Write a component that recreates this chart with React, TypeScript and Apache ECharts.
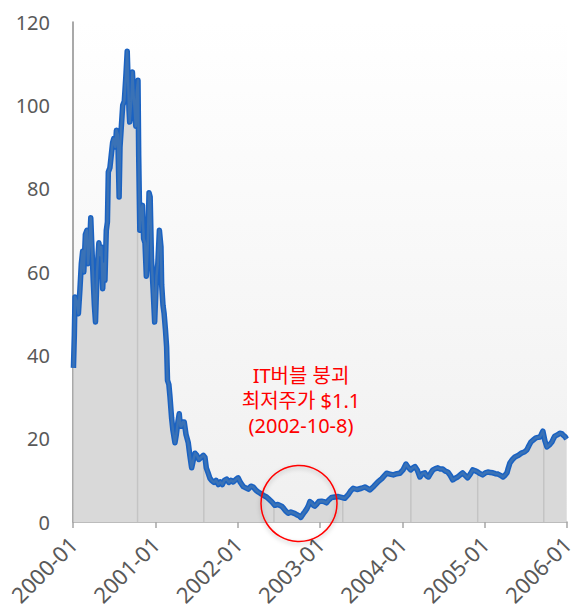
import React, { useEffect, useRef } from "react";
import * as echarts from "echarts";

// Weekly-ish closing prices
const dates: string[] = [
  // 2000
  "2000-01-03", "2000-01-07", "2000-01-10", "2000-01-18", "2000-01-25", "2000-02-01", "2000-02-07", "2000-02-13",
  "2000-02-18", "2000-02-25", "2000-03-03", "2000-03-08", "2000-03-16", "2000-03-20", "2000-03-25", "2000-03-31",
  "2000-04-05", "2000-04-10", "2000-04-17", "2000-04-25", "2000-05-02", "2000-05-06", "2000-05-12", "2000-05-17",
  "2000-05-22", "2000-05-28", "2000-06-02", "2000-06-06", "2000-06-13", "2000-06-19", "2000-06-25", "2000-06-30",
  "2000-07-07", "2000-07-12", "2000-07-18", "2000-07-24", "2000-07-28", "2000-08-03", "2000-08-09", "2000-08-16",
  "2000-08-23", "2000-08-29", "2000-09-02", "2000-09-06", "2000-09-09", "2000-09-16", "2000-09-21", "2000-09-27",
  "2000-10-01", "2000-10-06", "2000-10-10", "2000-10-16", "2000-10-19", "2000-10-24", "2000-10-29", "2000-11-05",
  "2000-11-10", "2000-11-16", "2000-11-22", "2000-11-28", "2000-12-04", "2000-12-09", "2000-12-15", "2000-12-22",
  "2000-12-29",
  // 2001
  "2001-01-06", "2001-01-12", "2001-01-19", "2001-01-26", "2001-01-29", "2001-02-04", "2001-02-09", "2001-02-15",
  "2001-02-20", "2001-02-24", "2001-03-02", "2001-03-07", "2001-03-14", "2001-03-20", "2001-03-29", "2001-04-04",
  "2001-04-11", "2001-04-17", "2001-04-22", "2001-04-27", "2001-05-03", "2001-05-09", "2001-05-17", "2001-05-27",
  "2001-06-03", "2001-06-11", "2001-06-19", "2001-06-26", "2001-07-04", "2001-07-13", "2001-07-25", "2001-08-02",
  "2001-08-09", "2001-08-15", "2001-08-23", "2001-08-31", "2001-09-07", "2001-09-18", "2001-09-27", "2001-10-07",
  "2001-10-16", "2001-10-25", "2001-11-03", "2001-11-13", "2001-11-23", "2001-12-02", "2001-12-12", "2001-12-24",
  // 2002
  "2002-01-03", "2002-01-13", "2002-01-26", "2002-02-06", "2002-02-17", "2002-03-01", "2002-03-11", "2002-03-23",
  "2002-04-02", "2002-04-14", "2002-04-25", "2002-05-09", "2002-05-19", "2002-06-02", "2002-06-15", "2002-06-28",
  "2002-07-15", "2002-07-25", "2002-08-03", "2002-08-13", "2002-08-25", "2002-09-03", "2002-09-12", "2002-09-21",
  "2002-09-30", "2002-10-08", "2002-10-13", "2002-10-19", "2002-10-26", "2002-11-04", "2002-11-11", "2002-11-17",
  "2002-11-26", "2002-12-03", "2002-12-09", "2002-12-18", "2002-12-27",
  // 2003
  "2003-01-08", "2003-01-18", "2003-01-30", "2003-02-09", "2003-02-21", "2003-03-08", "2003-03-23", "2003-04-06",
  "2003-04-21", "2003-05-05", "2003-05-16", "2003-05-28", "2003-06-14", "2003-07-04", "2003-07-19", "2003-08-01",
  "2003-08-10", "2003-08-28", "2003-09-16", "2003-10-02", "2003-10-23", "2003-11-07", "2003-11-22", "2003-12-08",
  "2003-12-21",
  // 2004
  "2004-01-04", "2004-01-17", "2004-01-26", "2004-02-07", "2004-02-17", "2004-02-26", "2004-03-08", "2004-03-19",
  "2004-03-30", "2004-04-10", "2004-04-19", "2004-04-26", "2004-05-07", "2004-05-16", "2004-05-27", "2004-06-07",
  "2004-06-18", "2004-06-29", "2004-07-10", "2004-07-21", "2004-08-01", "2004-08-12", "2004-08-23", "2004-09-03",
  "2004-09-14", "2004-09-25", "2004-10-06", "2004-10-17", "2004-10-29", "2004-11-09", "2004-11-20", "2004-12-01",
  "2004-12-12", "2004-12-23",
  // 2005
  "2005-01-04", "2005-01-15", "2005-01-26", "2005-02-06", "2005-02-17", "2005-03-01", "2005-03-12", "2005-03-23",
  "2005-04-01", "2005-04-10", "2005-04-16", "2005-04-23", "2005-05-04", "2005-05-15", "2005-05-31", "2005-06-15",
  "2005-06-26", "2005-07-07", "2005-07-16", "2005-07-25", "2005-08-05", "2005-08-16", "2005-08-25", "2005-09-03",
  "2005-09-09", "2005-09-16", "2005-09-25", "2005-10-04", "2005-10-15", "2005-10-26", "2005-11-02", "2005-11-08",
  "2005-11-19", "2005-11-30", "2005-12-09", "2005-12-14", "2005-12-23", "2005-12-30",
];

const prices: number[] = [
  // 2000
  37, 45, 54, 53, 50, 56, 62, 65,
  60, 69, 70, 62, 68, 73, 66, 58,
  52, 48, 60, 67, 64, 66, 56, 62,
  58, 70, 72, 84, 85, 88, 91, 92,
  90, 94, 93, 78, 90, 95, 100, 101,
  107, 113, 106, 99, 96, 101, 108, 102,
  99, 95, 103, 106, 88, 70, 74, 76,
  68, 67, 59, 66, 79, 78, 63, 56,
  48,
  // 2001
  59, 62, 70, 66, 57, 52, 50, 46,
  42, 34, 33, 30, 25, 22, 19, 21,
  24, 26, 23, 23, 24, 24, 21, 19,
  16, 13, 15, 16.5, 16, 15, 15.6, 16,
  15.5, 13, 11.8, 10.5, 10, 9.5, 10, 9,
  9.6, 9, 10, 10.3, 9.5, 10, 9.6, 10.2,
  // 2002
  10.6, 9.5, 8.5, 8.2, 7.9, 8.6, 8.4, 7.6,
  7.2, 6.8, 6.4, 6, 5.5, 4.8, 4, 4.2,
  3.8, 3.2, 2.6, 2.1, 2.4, 2.2, 2.0, 1.7,
  1.5, 1.1, 1.5, 2.0, 2.5, 3.2, 4, 4.9,
  4.5, 4.0, 3.8, 4.3, 4.9,
  // 2003
  5, 4.9, 4.6, 5.3, 5.9, 6, 6.1, 5.9,
  5.7, 6.5, 7.4, 8.1, 7.8, 8.1, 8.4, 8.0,
  7.7, 8.6, 9.7, 10.4, 11.7, 11.5, 11.3, 11.6,
  11.7,
  // 2004
  12.5, 13.9, 13.2, 12.5, 13, 13.3, 12.4, 10.8,
  11.6, 11.8, 11, 10.8, 11.8, 12.5, 12.8, 13,
  12.7, 12.7, 12.2, 12, 11.2, 10.1, 10.5, 10.8,
  11.3, 11.8, 11.2, 10.6, 11.5, 12.5, 12.3, 12,
  11.6, 11.3,
  // 2005
  11.8, 12, 11.9, 11.8, 11.6, 11.5, 11.2, 10.8,
  11.2, 11.8, 13, 14.2, 15, 15.6, 16, 16.6,
  16.8, 17.3, 18.3, 19.2, 19.7, 20.2, 20.3, 20.4,
  21, 21.8, 19.5, 18, 18.5, 19.2, 20, 20.6,
  20.9, 21.3, 21.2, 20.9, 20.5, 19.9,
];

// Faint vertical drop lines inside the filled area (as in the reference)
const dropDates: string[] = ["2000-10-14", "2001-08-04", "2002-06-11", "2003-04-12", "2004-02-08", "2004-12-01", "2005-09-20"];
const dropValues: number[] = [100, 15.8, 4.3, 5.9, 12.5, 12, 20];

const yearTicks: number[] = [2000, 2001, 2002, 2003, 2004, 2005, 2006];

const annotationLines: string[] = ["IT버블 붕괴", "최저주가 $1.1", "(2002-10-8)"];

function toYear(s: string): number {
  const [y, m, d] = s.split("-").map(Number);
  const start = Date.UTC(y, 0, 1);
  const end = Date.UTC(y + 1, 0, 1);
  return y + (Date.UTC(y, m - 1, d) - start) / (end - start);
}

const FONT = '"Noto Sans", "Noto Sans CJK KR", sans-serif';

export default function App() {
  const ref = useRef<HTMLDivElement>(null);
  useEffect(() => {
    if (!ref.current) return;
    const chart = echarts.init(ref.current, null, { renderer: "svg" });
    const lineData = dates.map((d, i) => [toYear(d), prices[i]]);
    const dropData = dropDates.map((d, i) => [toYear(d), dropValues[i]]);
    chart.setOption({
      animation: false,
      backgroundColor: "#ffffff",
      grid: {
        left: 73,
        right: 17,
        top: 22,
        bottom: 91,
        show: true,
        borderWidth: 0,
        backgroundColor: new echarts.graphic.LinearGradient(0, 0, 0, 1, [
          { offset: 0, color: "#ffffff" },
          { offset: 1, color: "#f0f0f0" },
        ]),
      },
      xAxis: {
        type: "value",
        min: yearTicks[0],
        max: yearTicks[yearTicks.length - 1],
        interval: 1,
        splitLine: { show: false },
        axisLine: { show: true, lineStyle: { color: "#a6a6a6", width: 1.5 } },
        axisTick: { show: true, length: 6, lineStyle: { color: "#a6a6a6", width: 1.5 } },
        axisLabel: {
          rotate: 45,
          margin: 18,
          color: "#595959",
          fontSize: 22,
          fontFamily: FONT,
          formatter: (v: number) => `${v}-01`,
        },
      },
      yAxis: {
        type: "value",
        min: 0,
        max: 120,
        interval: 20,
        splitLine: { show: false },
        axisLine: { show: true, lineStyle: { color: "#8c8c8c", width: 1.5 } },
        axisTick: { show: false },
        axisLabel: { margin: 23, color: "#595959", fontSize: 20, fontFamily: FONT },
      },
      series: [
        {
          name: "area",
          type: "line",
          data: lineData,
          showSymbol: false,
          lineStyle: { width: 0, opacity: 0 },
          areaStyle: { color: "#d9d9d9", opacity: 1 },
          z: 1,
          silent: true,
        },
        {
          name: "drop",
          type: "bar",
          data: dropData,
          barWidth: 1.5,
          itemStyle: { color: "#c4c4c4" },
          z: 2,
          silent: true,
        },
        {
          name: "priceOutline",
          type: "line",
          data: lineData,
          showSymbol: false,
          lineStyle: { color: "#1a62c2", width: 5.5, join: "round" },
          z: 3,
          silent: true,
        },
        {
          name: "price",
          type: "line",
          data: lineData,
          showSymbol: false,
          lineStyle: { color: "#3a72b6", width: 2.5, join: "round" },
          z: 4,
        },
      ],
      graphic: [
        {
          type: "text",
          x: 301,
          y: 400,
          z: 100,
          style: {
            text: annotationLines.join("\n"),
            fill: "#ff0000",
            fontSize: 20,
            lineHeight: 25,
            fontFamily: FONT,
            align: "center",
            verticalAlign: "middle",
          },
        },
        {
          type: "circle",
          z: 100,
          shape: { cx: 299, cy: 503.5, r: 38 },
          style: {
            fill: "none",
            stroke: "#ff0000",
            lineWidth: 1.5,
            shadowBlur: 4,
            shadowColor: "rgba(0,0,0,0.25)",
            shadowOffsetY: 2,
          },
        },
      ],
    });
    return () => chart.dispose();
  }, []);
  return (
    <div
      ref={ref}
      style={{ position: "absolute", left: 0, top: 0, width: 584, height: 613 }}
    />
  );
}
